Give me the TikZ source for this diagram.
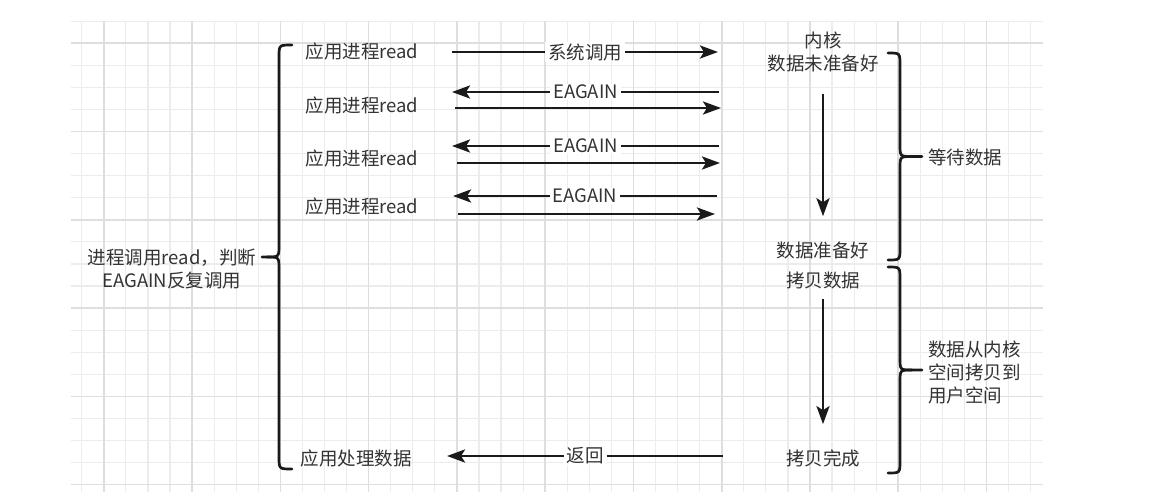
\documentclass[tikz,border=0pt]{standalone}
\usepackage{fontspec}
\setmainfont{Noto Sans CJK SC}
\usetikzlibrary{arrows.meta,positioning}
\definecolor{ioInk}{HTML}{1A1A1A}
\definecolor{ioText}{HTML}{333333}
\definecolor{ioGrid}{HTML}{ECECEC}
\definecolor{ioGridBold}{HTML}{DEDEDE}

% curly bracket: end x, line x, tip x, top y, bottom y
\newcommand\curly[5]{%
  \pgfmathsetmacro\cym{(#4+#5)/2}
  \pgfmathsetmacro\cxm{#2+12*sign(#3-#2)}
  \draw[brc] (#1,#4) .. controls (#2,#4) .. (#2,#4+12) -- (#2,\cym-12)
    .. controls (#2,\cym) .. (\cxm,\cym) -- (#3,\cym);
  \draw[brc] (\cxm,\cym) .. controls (#2,\cym) .. (#2,\cym+12) -- (#2,#5-12)
    .. controls (#2,#5) .. (#1,#5);
}

\begin{document}
\begin{tikzpicture}[x=1pt, y=-1pt,
    txt/.style={text=ioText, font=\fontsize{18.5}{23}\selectfont, inner sep=0pt},
    lbl/.style={txt, fill=white, inner xsep=3pt, inner ysep=1pt},
    arr/.style={-{Stealth[length=18pt, width=13pt, inset=4pt]}, ioInk, line width=2.8pt},
    brc/.style={ioInk, line width=2.7pt, line cap=round, line join=round},
    gridline/.style={ioGrid, line width=1.2pt},
    gridbold/.style={ioGridBold, line width=1.6pt}
  ]
  \useasboundingbox (0,0) rectangle (1168,497);
  \fill[white] (0,0) rectangle (1168,497);

  % squared paper
  \foreach \i in {0,...,43} {
    \pgfmathsetmacro\gx{81.7+22.07*\i}
    \draw[gridline] (\gx,21.2) -- (\gx,492);
  }
  \foreach \j in {0,...,21} {
    \pgfmathsetmacro\gy{21.2+22.07*\j}
    \draw[gridline] (70.7,\gy) -- (1043,\gy);
  }
  \foreach \i in {1,5,...,41} {
    \pgfmathsetmacro\gx{81.7+22.07*\i}
    \draw[gridbold] (\gx,21.2) -- (\gx,492);
  }
  \foreach \j in {1,5,...,21} {
    \pgfmathsetmacro\gy{21.2+22.07*\j}
    \draw[gridbold] (70.7,\gy) -- (1043,\gy);
  }

  % user side
  \node[txt] (app1) at (362,51)  {应用进程read};
  \node[txt] (app2) at (362,105) {应用进程read};
  \node[txt] (app3) at (362,158) {应用进程read};
  \node[txt] (app4) at (362,206) {应用进程read};
  \node[txt] (handle) at (356,458) {应用处理数据};
  \node[txt, align=center] (loop) at (172,269) {进程调用read，判断\\EAGAIN反复调用};

  % kernel side
  \node[txt, align=center] (kernel) at (823,51.5) {内核\\数据未准备好};
  \node[txt] (ready)  at (823,250) {数据准备好};
  \node[txt] (copy)   at (823,280) {拷贝数据};
  \node[txt] (copied) at (823,458) {拷贝完成};
  \node[txt, anchor=west] (wait) at (928,157) {等待数据};
  \node[txt, anchor=west, align=left] (tocopy) at (928,372) {数据从内核\\空间拷贝到\\用户空间};

  % arrow ends
  \coordinate (u1)  at (452,52);  \coordinate (k1)  at (718,52);
  \coordinate (u2a) at (452,92);  \coordinate (k2a) at (719,92);
  \coordinate (u2b) at (455,108); \coordinate (k2b) at (721,108);
  \coordinate (u3a) at (452,146); \coordinate (k3a) at (719,146);
  \coordinate (u3b) at (457,163); \coordinate (k3b) at (720,163);
  \coordinate (u4a) at (453,196); \coordinate (k4a) at (717,196);
  \coordinate (u4b) at (458,214); \coordinate (k4b) at (715,214);
  \coordinate (u5)  at (447,456); \coordinate (k5)  at (723,456);

  \draw[arr] (u1) -- node[lbl] {系统调用} (k1);
  \draw[arr] (k2a) -- node[lbl] {EAGAIN} (u2a);
  \draw[arr] (u2b) -- (k2b);
  \draw[arr] (k3a) -- node[lbl] {EAGAIN} (u3a);
  \draw[arr] (u3b) -- (k3b);
  \draw[arr] (k4a) -- node[lbl] {EAGAIN} (u4a);
  \draw[arr] (u4b) -- (k4b);
  \draw[arr] (k5) -- node[lbl] {返回} (u5);

  \draw[arr, shorten <=22pt, shorten >=25pt] (kernel.south) -- (ready.north);
  \draw[arr, shorten <=10pt, shorten >=25pt] (copy.south) -- (copied.north);

  % brackets
  \curly{292}{279}{262}{45}{469}
  \curly{888}{900}{922}{53}{260}
  \curly{888}{900}{922}{267}{473}
\end{tikzpicture}
\end{document}
